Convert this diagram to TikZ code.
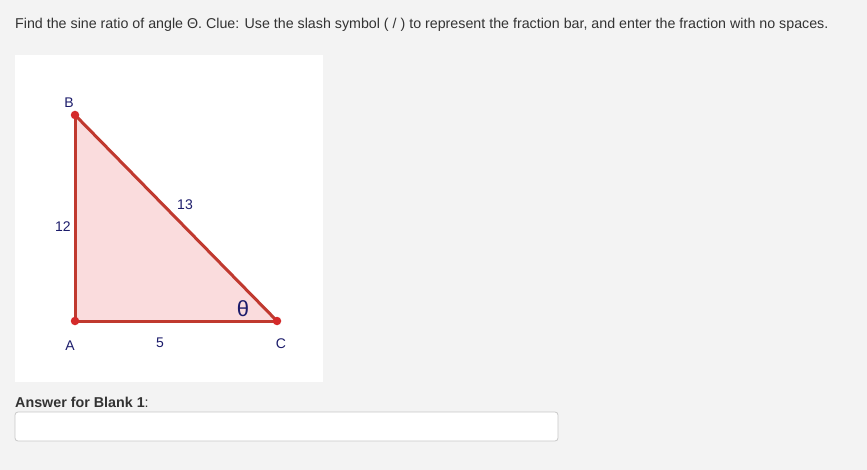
\documentclass[tikz,border=0pt]{standalone}
\usepackage{fontspec}
\setmainfont{Liberation Sans}
\usetikzlibrary{positioning,calc}
\definecolor{pagegray}{HTML}{F3F3F3}
\definecolor{edgered}{HTML}{C0392F}
\definecolor{ptred}{HTML}{D42A2A}
\definecolor{fillpink}{HTML}{FADCDD}
\definecolor{labblue}{HTML}{1C1C6B}
\definecolor{txtgray}{HTML}{333333}
\definecolor{boxgray}{HTML}{C8C8C8}

\begin{document}
\begin{tikzpicture}[x=1pt, y=-1pt]
			\tikzstyle{lab}=[text=labblue, font=\fontsize{14}{16}\selectfont, inner sep=0pt]
			\tikzstyle{pt}=[circle, fill=ptred, inner sep=0pt, minimum size=8.5pt]
			\tikzstyle{cote}=[draw=edgered, line width=3pt]
			\fill[pagegray] (0,0) rectangle (867,470);
			\useasboundingbox (0,0) rectangle (867,470);
			\node[anchor=west, text=txtgray, font=\fontsize{14.25}{16}\selectfont, inner sep=0pt] (question) at (15,25) {Find the sine ratio of angle Θ. Clue: Use the slash symbol ( / ) to represent the fraction bar, and enter the fraction with no spaces.};
			\fill[white] (15,55) rectangle (323,382);
			\coordinate (A) at (75,321);
			\coordinate (B) at (75,115);
			\coordinate (C) at (277,321);
			\fill[fillpink] (A) -- (B) -- (C) -- cycle;
			\draw[cote] (A) -- (B);
			\draw[cote] (B) -- (C);
			\draw[cote] (C) -- (A);
			\node[pt] (pA) at (A) {};
			\node[pt] (pB) at (B) {};
			\node[pt] (pC) at (C) {};
			\node[lab] (labA) at (70,346) {A};
			\node[lab] (labB) at (69,103) {B};
			\node[lab] (labC) at (281,344) {C};
			\node[lab] (ab) at (63,227) {12};
			\node[lab] (bc) at (185,205) {13};
			\node[lab] (ca) at (160,343) {5};
			\node[lab, font=\fontsize{22}{24}\selectfont] (theta) at (243,309) {θ};
			\node[anchor=west, text=txtgray, font=\fontsize{14.3}{16}\selectfont, inner sep=0pt] (answer) at (15,402) {\textbf{Answer for Blank 1}:};
			\draw[boxgray, fill=white, rounded corners=3pt, line width=0.8pt] (15,412) rectangle (558,441);
		\end{tikzpicture}
\end{document}
